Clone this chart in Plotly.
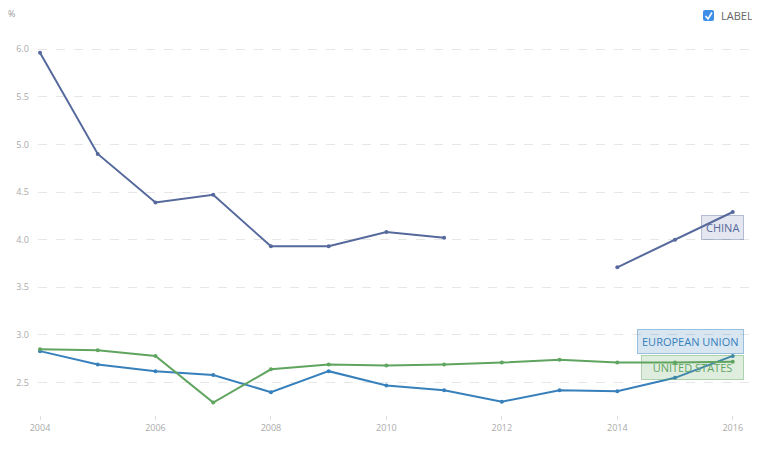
import plotly.graph_objects as go

years = list(range(2004, 2017))
china = [5.96, 4.90, 4.39, 4.47, 3.93, 3.93, 4.08, 4.02, None, None, 3.71, 4.00, 4.29]
eu = [2.83, 2.69, 2.62, 2.58, 2.40, 2.62, 2.47, 2.42, 2.30, 2.42, 2.41, 2.55, 2.78]
us = [2.85, 2.84, 2.78, 2.29, 2.64, 2.69, 2.68, 2.69, 2.71, 2.74, 2.71, 2.71, 2.72]

names = ["CHINA", "EUROPEAN UNION", "UNITED STATES"]
colors = ["#56699c", "#3780bb", "#5fa45f"]
fills = ["rgba(86,105,156,0.16)", "rgba(55,128,187,0.2)", "rgba(95,164,95,0.2)"]
borders = ["rgba(86,105,156,0.4)", "rgba(55,128,187,0.45)", "rgba(95,164,95,0.45)"]
label_y = [4.13, 2.93, 2.66]
label_w = [None, None, 93]

# page has an 8px body margin, so the figure is drawn a bit smaller
W, H = 752, 451
ML, MR, MT, MB = 30, 3, 22, 44


def px(x, y):
    # page pixel -> paper coords of the plot area
    x0, y0 = ML + 8, MT + 8
    pw, ph = W - ML - MR, H - MT - MB
    return (x - x0) / pw, 1 - (y - y0) / ph


fig = go.Figure()
for vals, name, col in zip([china, eu, us], names, colors):
    fig.add_trace(go.Scatter(x=years, y=vals, name=name, mode="lines+markers",
                             line=dict(color=col, width=2),
                             marker=dict(size=4, color=col),
                             connectgaps=False))

for name, col, fill, bd, ly, lw in zip(names, colors, fills, borders, label_y, label_w):
    fig.add_annotation(x=2016.2, y=ly, xref="x", yref="y", text=name,
                       xanchor="right", showarrow=False, width=lw,
                       font=dict(size=11, color=col),
                       bgcolor=fill, bordercolor=bd,
                       borderwidth=1, borderpad=4)

# axis unit
ux, uy = px(6, 14)
fig.add_annotation(x=ux, y=uy, xref="paper", yref="paper", yanchor="middle",
                   xanchor="left", text="%", showarrow=False,
                   font=dict(size=9, color="#999999"))

# "LABEL" checkbox in the corner
a, b = px(703, 10)
c, d = px(714, 21)
rx, ry = px(705, 12)
rx, ry = rx - a, b - ry
box = (f"M {a+rx},{b} L {c-rx},{b} Q {c},{b} {c},{b-ry} L {c},{d+ry} "
       f"Q {c},{d} {c-rx},{d} L {a+rx},{d} Q {a},{d} {a},{d+ry} "
       f"L {a},{b-ry} Q {a},{b} {a+rx},{b} Z")
fig.add_shape(type="path", xref="paper", yref="paper", layer="above",
              path=box, fillcolor="#3d8fe8", line=dict(width=0))
p1, p2, p3 = px(705.5, 16), px(708, 19), px(712, 12.5)
fig.add_shape(type="path", xref="paper", yref="paper", layer="above",
              path=f"M {p1[0]},{p1[1]} L {p2[0]},{p2[1]} L {p3[0]},{p3[1]}",
              line=dict(color="white", width=1.6))
lx, ly = px(719, 15.5)
fig.add_annotation(x=lx, y=ly, xref="paper", yref="paper", text="LABEL",
                   xanchor="left", yanchor="middle", showarrow=False,
                   font=dict(size=11, color="#666666"))

fig.update_layout(
    width=W, height=H,
    margin=dict(l=ML, r=MR, t=MT, b=MB, autoexpand=False),
    paper_bgcolor="white", plot_bgcolor="white",
    showlegend=False,
    font=dict(family="Open Sans", color="#aaaaaa"),
)
fig.update_xaxes(range=[2003.965, 2016.42], tickvals=list(range(2004, 2017, 2)),
                 showgrid=False, zeroline=False, showline=False,
                 ticks="outside", ticklen=4, tickcolor="#dddddd",
                 tickfont=dict(size=9, color="#aaaaaa"))
fig.update_yaxes(range=[2.16, 6.2], tickvals=[2.5, 3.0, 3.5, 4.0, 4.5, 5.0, 5.5, 6.0],
                 ticktext=["2.5", "3.0", "3.5", "4.0", "4.5", "5.0", "5.5", "6.0"],
                 showgrid=True, gridcolor="#e6e6e6", griddash="dash", gridwidth=1,
                 zeroline=False, showline=False, ticklabelstandoff=8,
                 tickfont=dict(size=9, color="#aaaaaa"))

fig.write_html("out.html")
